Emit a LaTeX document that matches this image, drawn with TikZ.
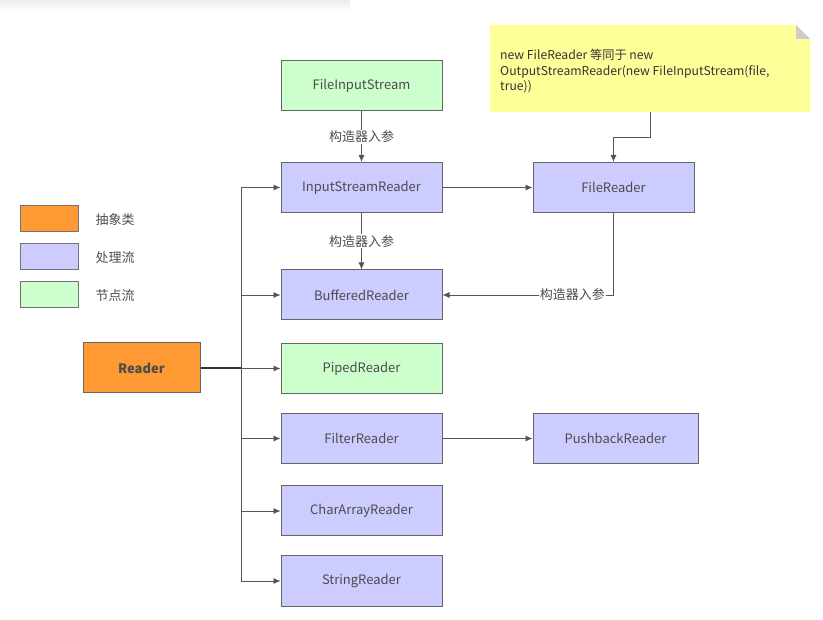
\documentclass[tikz,border=0pt]{standalone}
\usepackage{fontspec}
\setmainfont{Noto Sans CJK SC}
\usetikzlibrary{arrows.meta}
\definecolor{absclr}{HTML}{FF9933}
\definecolor{procclr}{HTML}{CCCCFF}
\definecolor{nodeclr}{HTML}{CCFFCC}
\definecolor{noteclr}{HTML}{FFFF99}
\definecolor{lineclr}{HTML}{555555}
\begin{document}
\begin{tikzpicture}[x=1pt,y=-1pt,
  every node/.style={font=\fontsize{13}{15}\selectfont,text=black!70},
  class node/.style={draw=black!60,line width=1pt,minimum width=161pt,minimum height=50pt,inner sep=0pt},
  proc node/.style={class node,fill=procclr},
  leaf node/.style={class node,fill=nodeclr},
  legend node/.style={draw=black!55,line width=1pt,minimum width=58pt,minimum height=26pt,inner sep=0pt},
  arr/.style={draw=lineclr,line width=0.8pt,-{Latex[length=7pt,width=6pt]}},
  lbl/.style={fill=white,inner sep=1pt,text=black!70}]

  \useasboundingbox (0,0) rectangle (823,620);
  \shade[top color=black!7,bottom color=white] (0,0) rectangle (350,12);

  % legend
  \node[legend node,fill=absclr] (l1) at (49,219) {};
  \node[legend node,fill=procclr] (l2) at (49,257) {};
  \node[legend node,fill=nodeclr] (l3) at (49,295) {};
  \node[anchor=west] at (92,220) {抽象类};
  \node[anchor=west] at (92,258) {处理流};
  \node[anchor=west] at (92,296) {节点流};

  % classes
  \node[class node,fill=absclr,minimum width=117pt,font=\fontsize{13}{15}\selectfont\bfseries] (reader) at (141.5,368) {Reader};
  \node[leaf node] (fis) at (361.5,86) {FileInputStream};
  \node[proc node] (isr) at (361.5,187.5) {InputStreamReader};
  \node[proc node] (fr) at (613.5,187.5) {FileReader};
  \node[proc node] (br) at (361.5,295) {BufferedReader};
  \node[leaf node] (pr) at (361.5,368.5) {PipedReader};
  \node[proc node] (fltr) at (361.5,438.5) {FilterReader};
  \node[proc node,minimum width=165pt] (pbr) at (615.5,438.5) {PushbackReader};
  \node[proc node] (car) at (361.5,511) {CharArrayReader};
  \node[proc node] (sr) at (361.5,581) {StringReader};

  % note
  \fill[noteclr] (490,25) -- (796,25) -- (810,39) -- (810,112) -- (490,112) -- cycle;
  \fill[black!20] (796,25) -- (810,39) -- (796,39) -- cycle;
  \node[anchor=north west,align=left,inner sep=0pt,text=black!80,font=\fontsize{12.2}{15.5}\selectfont] (note) at (500,49)
    {new FileReader 等同于 new\\OutputStreamReader(new FileInputStream(file,\\true))};
  \coordinate (nb) at (650,112);

  % trunk
  \coordinate (top) at (241,187.5);
  \coordinate (bot) at (241,581);
  \draw[lineclr,line width=0.8pt] (top) -- (bot);
  \draw[black!80,line width=1.2pt] (reader.east) -- (241,368);

  \path[every edge/.style={arr}]
   (top) edge (isr)
   (top |- br) edge (br)
   (241,368.5) edge (pr)
   (top |- fltr) edge (fltr)
   (top |- car) edge (car)
   (bot) edge (sr)
   (isr) edge (fr)
   (fltr) edge (pbr)
   (fis) edge node[lbl]{构造器入参} (isr)
   (isr) edge node[lbl]{构造器入参} (br);

  \draw[arr] (nb) |- (613.5,137) -- (fr);
  \draw[arr] (fr) |- node[lbl,pos=0.62]{构造器入参} (br);
\end{tikzpicture}
\end{document}
